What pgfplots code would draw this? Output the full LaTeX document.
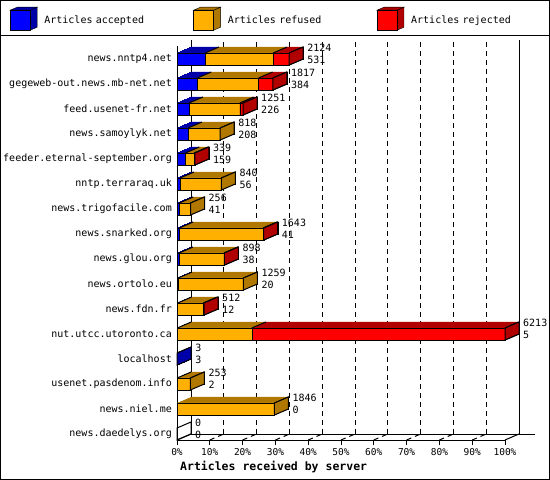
\documentclass[border=0pt]{standalone}
\usepackage{fontspec}
\usepackage{pgfplots}
\usepackage{pgfplotstable}
\pgfplotsset{compat=1.18}
\newfontfamily\gd{DejaVu Sans Mono}

\definecolor{accfront}{HTML}{0000FF}
\definecolor{accside}{HTML}{0000A8}
\definecolor{reffront}{HTML}{FFB000}
\definecolor{refside}{HTML}{B07800}
\definecolor{rejfront}{HTML}{FF0000}
\definecolor{rejside}{HTML}{B00000}

% pos 0 is the bottom row; total and acc are the two numbers printed beside each bar;
% side names the last non-empty part of the bar, whose colour its right face takes
\pgfplotstableread{
pos total acc ref rej side name
0 0 0 0 0 none news.daedelys.org
1 1846 0 1846 0 ref news.niel.me
2 253 2 251 0 ref usenet.pasdenom.info
3 3 3 0 0 acc localhost
4 6213 5 1412 4796 rej nut.utcc.utoronto.ca
5 512 12 485 15 rej news.fdn.fr
6 1259 20 1239 0 ref news.ortolo.eu
7 898 38 850 10 rej news.glou.org
8 1643 41 1588 14 rej news.snarked.org
9 256 41 215 0 ref news.trigofacile.com
10 840 56 784 0 ref nntp.terraraq.uk
11 339 159 165 15 rej feeder.eternal-september.org
12 818 208 610 0 ref news.samoylyk.net
13 1251 226 962 63 rej feed.usenet-fr.net
14 1817 384 1161 272 rej gegeweb-out.news.mb-net.net
15 2124 531 1289 304 rej news.nntp4.net
}\servers

% edges and right face of a 3d bar (depth 14bp x 6bp, bar 12bp high)
\pgfdeclareplotmark{topdiag}{%
  \pgfpathmoveto{\pgfqpoint{0bp}{6bp}}\pgfpathlineto{\pgfqpoint{14bp}{12bp}}\pgfusepathqstroke}
\pgfdeclareplotmark{enddiag}{%
  \pgfpathmoveto{\pgfqpoint{0bp}{6bp}}\pgfpathlineto{\pgfqpoint{14bp}{12bp}}%
  \pgfpathmoveto{\pgfqpoint{0bp}{-6bp}}\pgfpathlineto{\pgfqpoint{14bp}{0bp}}\pgfusepathqstroke}
\pgfdeclareplotmark{sideface}{%
  \pgfpathmoveto{\pgfqpoint{0bp}{-6bp}}\pgfpathlineto{\pgfqpoint{14bp}{0bp}}%
  \pgfpathlineto{\pgfqpoint{14bp}{12bp}}\pgfpathlineto{\pgfqpoint{0bp}{6bp}}%
  \pgfpathclose\pgfusepathqfillstroke}
\pgfdeclareplotmark{sideedge}{%
  \pgfpathmoveto{\pgfqpoint{0bp}{-6bp}}\pgfpathlineto{\pgfqpoint{14bp}{0bp}}%
  \pgfpathlineto{\pgfqpoint{14bp}{12bp}}\pgfpathlineto{\pgfqpoint{0bp}{6bp}}%
  \pgfpathclose\pgfusepathqstroke}

\pgfplotsset{
  frame3d/.style={scale only axis, width=328bp, height=394bp,
    xmin=0, xmax=6213, ymin=-0.24, ymax=15.52,
    enlargelimits=false, clip=false, anchor=south west},
  slab/.style={frame3d, hide axis, xbar stacked, bar width=12bp},
  numlabel/.style={draw=none, mark=none, point meta=explicit symbolic,
    nodes near coords,
    every node near coord/.append style={anchor=west, inner sep=0pt,
      xshift=18bp, yshift=#1, text=black,
      font=\gd\fontsize{10bp}{12bp}\selectfont}},
}

\begin{document}
\begin{tikzpicture}[line width=1bp]
\useasboundingbox (0,0) rectangle (550bp,480bp);

% back wall with its dashed grid
\begin{axis}[frame3d, at={(191bp,46bp)},
  axis line style={draw=none}, tick style={draw=none}, ytick=\empty,
  xtick={621.3,1242.6,1863.9,2485.2,3106.5,3727.8,4349.1,4970.4,5591.7},
  xticklabels={}, major tick length=0pt, xmajorgrids,
  major grid style={black, line width=1bp, dash pattern=on 5bp off 4bp}]
  \draw (axis description cs:0,0) -- (axis description cs:0,1);
  \draw (axis description cs:1,0) -- (axis description cs:1,1);
  \draw (axis description cs:0,0) -- (axis description cs:1.0488,0);
\end{axis}

% floor lines from front ticks to back wall
\foreach \i in {1,...,9}
  \draw[dash pattern=on 5bp off 4bp] ({177bp+32.8bp*\i},40bp) -- ++(14bp,6bp);
\draw (177bp,40bp) -- ++(14bp,6bp);
\draw (505bp,40bp) -- ++(14bp,6bp);

% depth of the bars: the same stacks, shifted back in half steps
\begin{axis}[slab, at={(191bp,46bp)}]
  \addplot[fill=accside, draw=black] table[x=acc, y=pos]{\servers};
  \addplot[fill=refside, draw=black] table[x=ref, y=pos]{\servers};
  \addplot[fill=rejside, draw=black] table[x=rej, y=pos]{\servers};
\end{axis}
\foreach \k in {27,26,...,1}{
  \begin{axis}[slab, at={({177bp+\k*0.5bp},{40bp+\k*0.2142857bp})}]
    \addplot[fill=accside, draw=accside, line width=0.8bp] table[x=acc, y=pos]{\servers};
    \addplot[fill=refside, draw=none] table[x=ref, y=pos]{\servers};
    \addplot[fill=rejside, draw=none] table[x=rej, y=pos]{\servers};
  \end{axis}
}

% front faces, axes and legend
\begin{axis}[frame3d, xbar stacked, bar width=12bp, at={(177bp,40bp)},
  axis x line*=bottom, axis y line*=left,
  axis line style={-, black, line width=1bp},
  tick align=outside, major tick length=5bp,
  xtick={0,621.3,1242.6,1863.9,2485.2,3106.5,3727.8,4349.1,4970.4,5591.7,6213},
  xticklabels={0\%,10\%,20\%,30\%,40\%,50\%,60\%,70\%,80\%,90\%,100\%},
  xtick style={black, line width=1bp},
  ytick={0,...,15}, yticklabels from table={\servers}{name},
  ytick style={draw=none},
  yticklabel style={font=\gd\fontsize{10bp}{12bp}\selectfont, anchor=east,
    inner sep=0pt},
  xticklabel style={font=\gd\fontsize{9.5bp}{11bp}\selectfont, anchor=north,
    inner sep=0pt, yshift=-3bp},
  xlabel={Articles received by server},
  xlabel style={font=\gd\bfseries\fontsize{11.5bp}{14bp}\selectfont,
    at={(axis description cs:0,0)}, anchor=base west, inner sep=0pt,
    xshift=3bp, yshift=-30bp},
  legend columns=3,
  legend style={at={(-0.50915,1.09898)}, anchor=north west, draw=none,
    fill=none, inner sep=0pt, outer sep=0pt, column sep=0pt,
    nodes={inner sep=0pt, text width=149bp, align=left,
      font=\gd\fontsize{10bp}{12bp}\selectfont}},
  mark options={solid, draw=black, line width=1bp},
]
  \addplot[fill=accfront, draw=black, mark=topdiag,
    legend image code/.code={
      \draw[fill=accside] (20bp,-10bp) -- (27bp,-7bp) -- (27bp,13bp) -- (20bp,10bp) -- cycle;
      \draw[fill=accside] (0bp,10bp) -- (7bp,13bp) -- (27bp,13bp) -- (20bp,10bp) -- cycle;
      \draw[fill=accfront] (0bp,-10bp) rectangle (20bp,10bp);
      \path (34bp,0bp);}]
    table[x=acc, y=pos]{\servers};
  \addplot[fill=reffront, draw=black, mark=topdiag,
    legend image code/.code={
      \draw[fill=refside] (20bp,-10bp) -- (27bp,-7bp) -- (27bp,13bp) -- (20bp,10bp) -- cycle;
      \draw[fill=refside] (0bp,10bp) -- (7bp,13bp) -- (27bp,13bp) -- (20bp,10bp) -- cycle;
      \draw[fill=reffront] (0bp,-10bp) rectangle (20bp,10bp);
      \path (34bp,0bp);}]
    table[x=ref, y=pos]{\servers};
  \addplot[fill=rejfront, draw=black, mark=enddiag,
    legend image code/.code={
      \draw[fill=rejside] (20bp,-10bp) -- (27bp,-7bp) -- (27bp,13bp) -- (20bp,10bp) -- cycle;
      \draw[fill=rejside] (0bp,10bp) -- (7bp,13bp) -- (27bp,13bp) -- (20bp,10bp) -- cycle;
      \draw[fill=rejfront] (0bp,-10bp) rectangle (20bp,10bp);
      \path (34bp,0bp);}]
    table[x=rej, y=pos]{\servers};
  \legend{Articles accepted, Articles refused, Articles rejected}
\end{axis}

% right faces of the bars, and the offered (upper) / accepted (lower) numbers
\begin{axis}[frame3d, hide axis, at={(177bp,40bp)}]
  \addplot[scatter, only marks, mark=sideface, point meta=explicit symbolic,
    scatter/classes={
      acc={mark=sideface, fill=accside, draw=black, line width=1bp},
      ref={mark=sideface, fill=refside, draw=black, line width=1bp},
      rej={mark=sideface, fill=rejside, draw=black, line width=1bp},
      none={mark=sideedge, draw=black, line width=1bp}}]
    table[x=total, y=pos, meta=side]{\servers};
  \addplot[numlabel=11bp] table[x=total, y=pos, meta=total]{\servers};
  \addplot[numlabel=-1bp] table[x=total, y=pos, meta=acc]{\servers};
\end{axis}

\draw (0.5bp,0.5bp) rectangle (549.5bp,479.5bp);
\draw (0bp,444.5bp) -- (550bp,444.5bp);
\end{tikzpicture}
\end{document}
